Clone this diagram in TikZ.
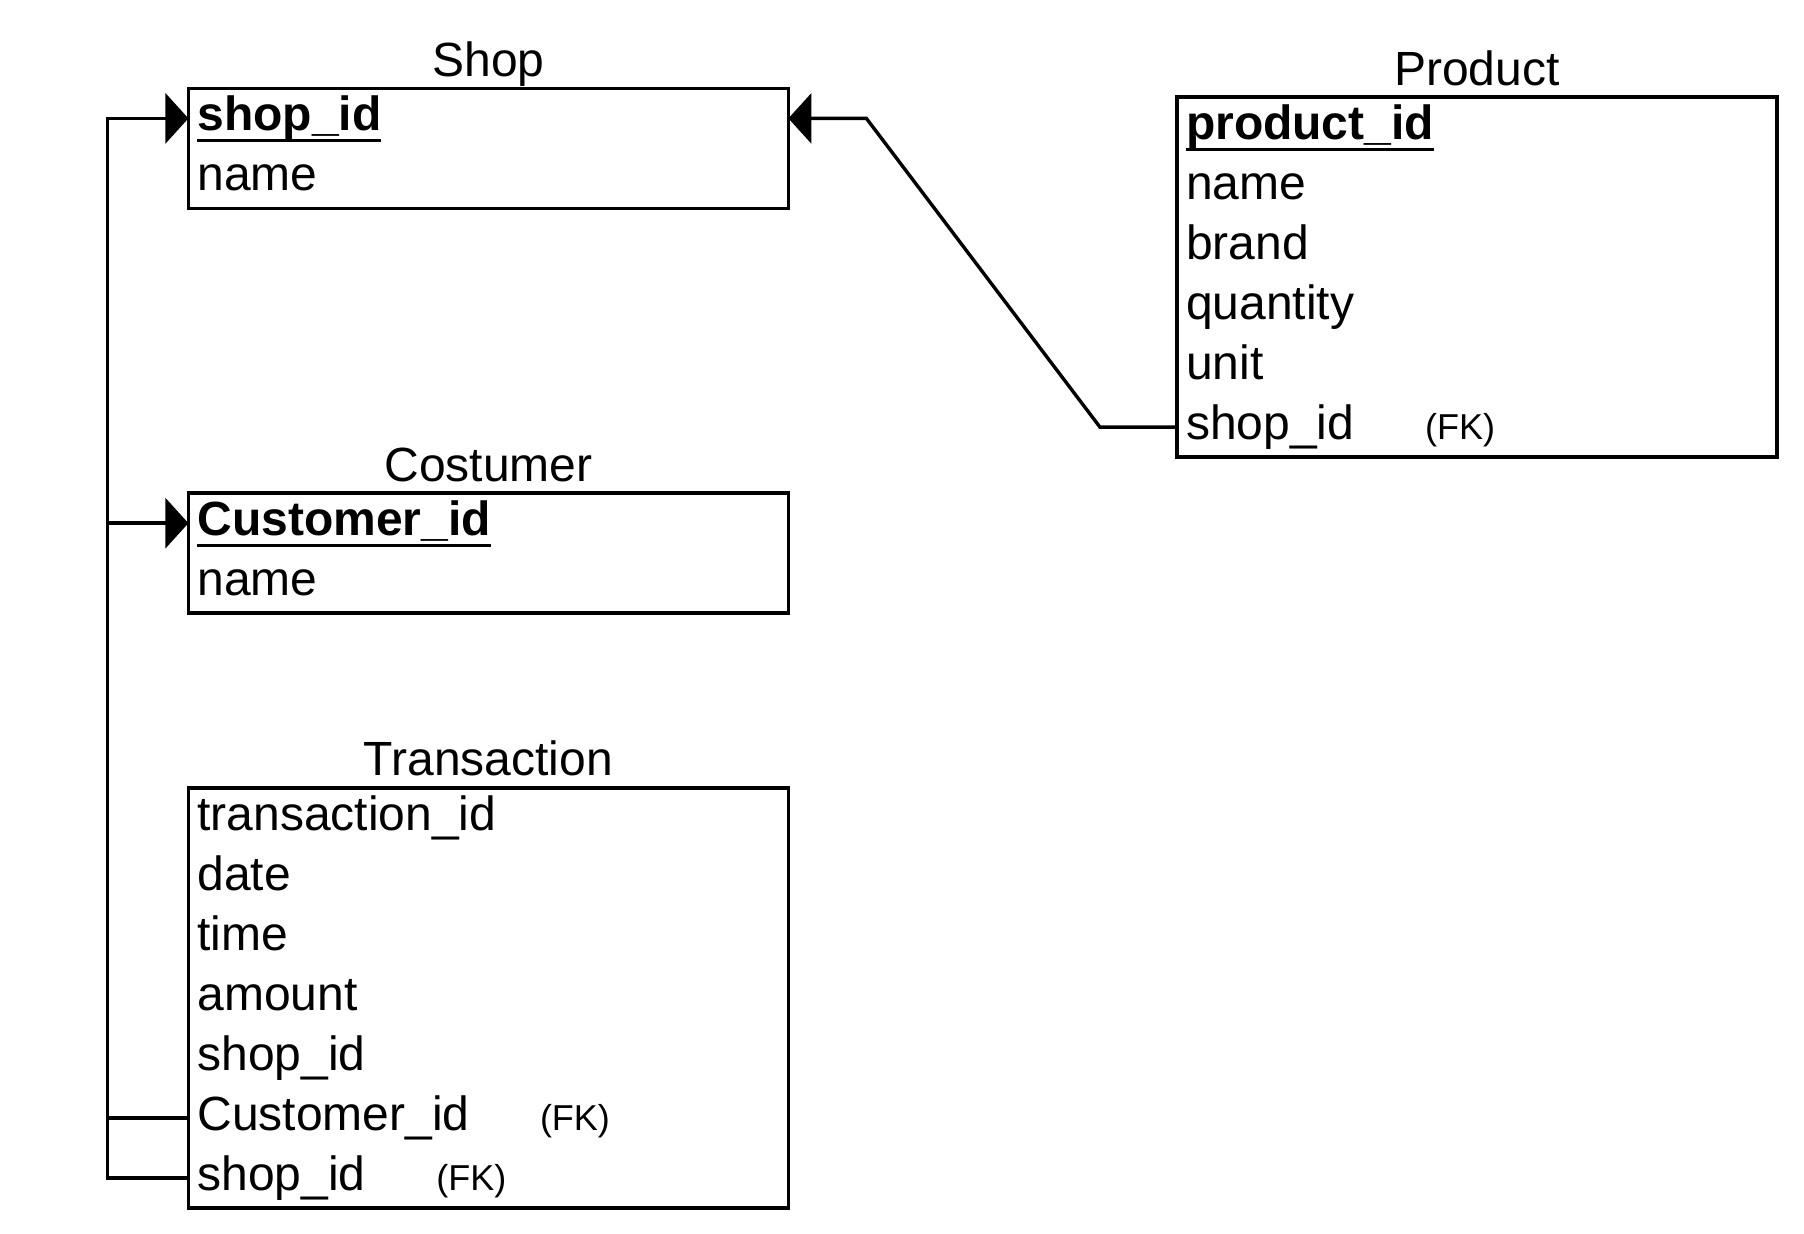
\documentclass[tikz,border=0pt]{standalone}
\usepackage{fontspec}
\setmainfont{Liberation Sans}
\usetikzlibrary{positioning,arrows.meta}

% primary key: bold with a heavy underline
\newcommand\pkey[1]{\setbox0\hbox{\bfseries #1}\rlap{\rule[-6pt]{\wd0}{1.8pt}}\box0}
% foreign key: name in a box of given width, then (FK)
\newcommand\fkey[2]{\makebox[#1][l]{#2}{\fontsize{18}{20}\selectfont(FK)}}

\begin{document}
\begin{tikzpicture}[x=1pt,y=-1pt,
    tbl/.style={draw, line width=1.7pt, minimum width=300pt, inner sep=0pt, outer sep=0pt, anchor=north west},
    row/.style={inner xsep=4.5pt, inner ysep=0pt, outer sep=0pt, text width=291pt, align=left,
      minimum height=30pt, text height=17pt, text depth=5pt, font=\fontsize{24}{28}\selectfont},
    title/.style={font=\fontsize{24}{28}\selectfont, inner sep=0pt},
    link/.style={line width=1.7pt},
    crow/.style={-{Triangle[length=11.5pt,width=25pt]}}]
  \useasboundingbox (0,0) rectangle (902,617);

  % Shop
  \node[tbl, minimum height=60pt] (shop) at (94.2,44.2) {};
  \node[row, anchor=north west] (shopkey) at (shop.north west) {\pkey{shop\_id}};
  \node[row, below=0pt of shopkey] (shopname) {name};
  \node[title, above=6pt of shop.north, anchor=base] (shoptitle) {Shop};

  % Costumer
  \node[tbl, minimum height=60pt] (cust) at (94.2,246.6) {};
  \node[row, anchor=north west] (custkey) at (cust.north west) {\pkey{Customer\_id}};
  \node[row, below=0pt of custkey] (custname) {name};
  \node[title, above=6pt of cust.north, anchor=base] (custtitle) {Costumer};

  % Transaction
  \node[tbl, minimum height=210pt] (trans) at (94.2,394) {};
  \node[row, anchor=north west] (tid) at (trans.north west) {transaction\_id};
  \node[row, below=0pt of tid] (tdate) {date};
  \node[row, below=0pt of tdate] (ttime) {time};
  \node[row, below=0pt of ttime] (tamount) {amount};
  \node[row, below=0pt of tamount] (tshop) {shop\_id};
  \node[row, below=0pt of tshop] (tcust) {\fkey{171.3pt}{Customer\_id}};
  \node[row, below=0pt of tcust] (tshopfk) {\fkey{119.5pt}{shop\_id}};
  \node[title, above=6pt of trans.north, anchor=base] (transtitle) {Transaction};

  % Product
  \node[tbl, minimum height=180pt] (prod) at (588.5,48.6) {};
  \node[row, anchor=north west] (pkey) at (prod.north west) {\pkey{product\_id}};
  \node[row, below=0pt of pkey] (pname) {name};
  \node[row, below=0pt of pname] (pbrand) {brand};
  \node[row, below=0pt of pbrand] (pqty) {quantity};
  \node[row, below=0pt of pqty] (punit) {unit};
  \node[row, below=0pt of punit] (pshopfk) {\fkey{119.5pt}{shop\_id}};
  \node[title, above=6pt of prod.north, anchor=base] (prodtitle) {Product};

  % links
  \coordinate (bus) at (53.7,300);
  \draw[link,crow] (tshopfk.west) -| (bus) |- (shopkey.west);
  \draw[link,crow] (bus) |- (custkey.west);
  \draw[link] (tcust.west) -| (bus);

  \coordinate[right=39pt of shopkey.east] (kneeA);
  \coordinate[left=38.5pt of pshopfk.west] (kneeB);
  \draw[link,crow] (pshopfk.west) -- (kneeB) -- (kneeA) -- (shopkey.east);
\end{tikzpicture}
\end{document}
